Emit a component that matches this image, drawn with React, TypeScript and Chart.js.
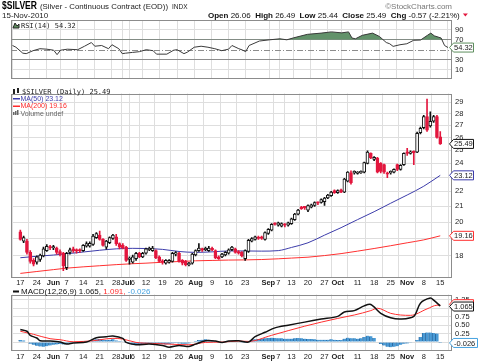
import React, { useEffect, useRef } from 'react';
import { Chart, registerables } from 'chart.js';

Chart.register(...registerables);

const SANS = '"Liberation Sans", Arial, sans-serif';
const MONO = '"DejaVu Sans Mono", "Liberation Mono", monospace';

// ---- x axis: trading-day index, tick labels ----
const tickDay = [0, 5, 10, 14, 19, 24, 29, 32, 34, 38, 43, 48, 53, 58, 63, 68, 75, 78, 82, 87, 92, 96, 102, 107, 112, 117, 122, 127];
const tickText = ['17', '24', 'Jun', '7', '14', '21', '28', 'Jul', '6', '12', '19', '26', 'Aug', '9', '16', '23', 'Sep', '7', '13', '20', '27', 'Oct', '11', '18', '25', 'Nov', '8', '15'];
const monthNames = ['Jun', 'Jul', 'Aug', 'Sep', 'Oct', 'Nov'];

// ---- daily OHLC (17-May-2010 .. 15-Nov-2010) ----
const open = [19.4, 18.85, 18.85, 18.2, 17.75, 17.65, 17.8, 18.0, 18.3, 18.5,
  18.45, 18.45, 18.25, 18.15, 17.35, 18.2, 18.4, 18.3, 18.3, 18.3,
  18.55, 18.55, 18.65, 19.05, 19.2, 18.95, 18.5, 18.75, 19.0, 19.1,
  18.7, 18.6, 18.5, 17.8, 17.65, 17.85, 18.15, 17.95, 18.15, 18.35,
  18.3, 18.3, 17.95, 17.7, 17.6, 17.65, 17.7, 18.1, 18.15, 17.75,
  17.7, 17.5, 17.6, 18.05, 18.3, 18.35, 18.35, 18.3, 18.4, 18.3,
  17.95, 17.95, 18.05, 18.15, 18.35, 18.4, 18.25, 18.2, 17.85, 18.25,
  18.85, 18.95, 19.05, 19.1, 18.95, 19.3, 19.5, 19.9, 19.8, 19.75,
  19.85, 19.8, 19.9, 20.15, 20.5, 20.9, 20.95, 20.75, 20.95, 21.05,
  21.25, 21.25, 21.3, 21.55, 21.7, 22.05, 21.9, 22.1, 21.95, 22.7,
  23.3, 23.3, 23.25, 23.3, 23.35, 24.0, 24.75, 24.3, 24.4, 24.0,
  23.9, 23.3, 23.3, 23.35, 23.9, 23.55, 23.9, 24.8, 24.75, 24.85,
  24.85, 26.4, 26.8, 27.75, 26.95, 27.35, 27.75, 26.06];
const high = [19.5, 19.15, 18.95, 18.3, 17.85, 18.0, 18.1, 18.5, 18.65, 18.6,
  18.6, 18.5, 18.35, 18.2, 18.2, 18.45, 18.5, 18.4, 18.4, 18.65,
  18.8, 18.8, 19.25, 19.35, 19.45, 19.0, 18.9, 19.1, 19.25, 19.25,
  18.75, 18.7, 18.55, 17.95, 18.05, 18.2, 18.2, 18.2, 18.45, 18.5,
  18.55, 18.35, 18.0, 17.8, 17.8, 17.8, 18.2, 18.25, 18.2, 17.8,
  17.75, 17.65, 18.15, 18.35, 18.7, 18.45, 18.5, 18.55, 18.5, 18.35,
  18.0, 18.15, 18.25, 18.4, 18.55, 18.45, 18.3, 18.25, 18.35, 18.95,
  19.05, 19.15, 19.15, 19.15, 19.4, 19.6, 19.9, 19.95, 20.0, 19.95,
  19.9, 20.0, 20.25, 20.55, 20.8, 21.0, 21.0, 21.1, 21.15, 21.3,
  21.3, 21.5, 21.6, 21.8, 22.0, 22.1, 22.1, 22.15, 22.9, 23.4,
  23.45, 23.45, 23.4, 23.45, 24.1, 24.95, 24.8, 24.5, 24.45, 24.05,
  23.95, 23.35, 23.45, 23.6, 23.95, 23.9, 24.8, 25.15, 24.95, 24.95,
  26.45, 26.85, 27.85, 29.3, 28.15, 27.85, 27.85, 26.49];
const low = [18.9, 18.75, 18.1, 17.6, 17.45, 17.55, 17.7, 17.95, 18.25, 18.35,
  18.35, 18.1, 18.0, 17.2, 17.25, 18.1, 18.2, 18.15, 18.2, 18.25,
  18.5, 18.5, 18.6, 19.0, 18.9, 18.55, 18.38, 18.7, 18.95, 18.6,
  18.4, 18.4, 17.7, 17.55, 17.6, 17.75, 17.9, 17.9, 18.1, 18.3,
  18.25, 17.85, 17.65, 17.55, 17.55, 17.6, 17.65, 18.0, 17.65, 17.5,
  17.45, 17.45, 17.55, 18.0, 18.25, 18.25, 18.3, 18.25, 18.3, 17.85,
  17.8, 17.9, 18.0, 18.1, 18.3, 18.15, 18.1, 17.95, 17.75, 18.2,
  18.8, 18.9, 18.95, 18.95, 18.9, 19.25, 19.45, 19.8, 19.75, 19.7,
  19.7, 19.75, 19.85, 20.1, 20.45, 20.8, 20.8, 20.65, 20.9, 21.0,
  21.1, 21.2, 21.05, 21.5, 21.65, 21.85, 21.85, 21.9, 21.9, 22.65,
  22.5, 23.2, 23.2, 23.25, 23.3, 23.95, 24.35, 24.2, 23.3, 23.3,
  23.25, 22.95, 23.2, 23.3, 23.45, 23.5, 23.85, 24.6, 24.7, 23.9,
  24.8, 26.3, 26.7, 26.5, 26.85, 27.25, 25.95, 25.44];
const close = [18.95, 19.05, 18.2, 17.7, 17.55, 17.95, 18.05, 18.4, 18.55, 18.45,
  18.5, 18.2, 18.1, 17.45, 18.15, 18.35, 18.3, 18.27, 18.28, 18.6,
  18.7, 18.72, 19.15, 19.3, 18.95, 18.6, 18.85, 19.05, 19.2, 18.7,
  18.5, 18.45, 17.75, 17.85, 17.95, 18.15, 17.95, 18.15, 18.4, 18.4,
  18.45, 17.9, 17.7, 17.65, 17.75, 17.75, 18.15, 18.15, 17.7, 17.6,
  17.5, 17.6, 18.1, 18.3, 18.45, 18.33, 18.38, 18.45, 18.35, 17.9,
  17.85, 18.1, 18.2, 18.35, 18.5, 18.2, 18.15, 18.0, 18.3, 18.9,
  19.0, 19.1, 19.0, 19.0, 19.35, 19.55, 19.85, 19.85, 19.95, 19.9,
  19.8, 19.95, 20.2, 20.5, 20.75, 20.85, 20.9, 21.05, 21.1, 21.25,
  21.2, 21.45, 21.55, 21.75, 21.95, 21.9, 22.05, 21.95, 22.85, 23.35,
  22.6, 23.35, 23.35, 23.4, 24.05, 24.85, 24.4, 24.45, 23.35, 23.4,
  23.35, 23.2, 23.35, 23.55, 23.55, 23.85, 24.75, 24.75, 24.85, 24.8,
  26.35, 26.75, 27.75, 26.6, 27.35, 27.75, 26.0, 25.49];

// ---- moving averages (weekly readings) ----
const maDay = [0, 5, 10, 14, 19, 24, 29, 34, 38, 43, 48, 53, 58, 63, 68, 73, 78, 82, 87, 92, 97, 102, 107, 112, 117, 122, 127];
const ma50 = [17.9, 17.98, 18.05, 18.12, 18.22, 18.32, 18.4, 18.43, 18.42, 18.37, 18.25, 18.2, 18.23, 18.28, 18.28, 18.27, 18.3, 18.48, 18.75, 19.2, 19.65, 20.15, 20.65, 21.2, 21.75, 22.35, 23.12];
const ma200 = [17.05, 17.15, 17.25, 17.33, 17.4, 17.46, 17.52, 17.57, 17.6, 17.65, 17.69, 17.73, 17.75, 17.77, 17.78, 17.8, 17.84, 17.88, 17.93, 18.02, 18.13, 18.27, 18.42, 18.58, 18.75, 18.92, 19.16];

// ---- RSI(14) ----
const rsiDay = [0, 1, 3, 4, 6, 8, 10, 12, 13, 14, 16, 19, 21, 23, 24, 26, 28, 29, 31, 32, 33, 35, 37, 39, 41, 42, 45, 47, 48, 50, 51, 53, 55, 57, 59, 61, 63, 64, 66, 67, 68, 69, 72, 75, 78, 80, 82, 86, 90, 93, 96, 98, 99, 100, 102, 105, 107, 109, 110, 111, 113, 115, 117, 119, 121, 122, 123, 125, 126, 127];
const rsiVal = [58.5, 55, 43, 42, 48, 52, 51, 49, 40, 49, 51, 50, 57, 64.5, 57, 58.5, 52, 60, 52, 42, 43, 44.5, 46, 50, 48, 41, 41, 49, 50, 42, 45, 55, 57, 55, 52, 48, 51, 58.5, 52, 49.5, 46, 58.5, 67.5, 70, 72, 70, 74, 81, 83.5, 86, 84, 86, 73.6, 72, 79, 83.5, 76.7, 64.5, 62, 56.7, 60, 62, 69, 69.5, 79, 83.5, 78, 73.6, 58.5, 54.32];

// ---- MACD(12,26,9) ----
const macdDay = [0, 2, 3, 5, 6, 9, 12, 14, 16, 20, 23, 26, 28, 31, 32, 35, 39, 43, 45, 48, 51, 53, 56, 59, 61, 63, 66, 69, 71, 74, 77, 81, 86, 91, 96, 98, 101, 104, 106, 109, 112, 115, 119, 121, 124, 125, 127];
const macdVal = [0.37, 0.32, 0.2, 0.12, 0.04, 0.03, 0, -0.06, -0.03, 0, 0.13, 0.16, 0.18, 0.11, -0.01, -0.08, -0.06, -0.1, -0.15, -0.1, -0.13, -0.06, 0.04, 0.03, -0.01, 0.03, 0.04, 0, 0.16, 0.29, 0.42, 0.5, 0.59, 0.68, 0.76, 0.89, 0.93, 1.07, 1.11, 0.85, 0.72, 0.68, 0.76, 1.15, 1.3, 1.24, 1.065];
const sigDay = [0, 4, 9, 12, 16, 22, 28, 31, 35, 40, 45, 51, 56, 61, 66, 69, 76, 86, 96, 101, 106, 108, 112, 115, 118, 123, 126, 127];
const sigVal = [0.32, 0.23, 0.1, 0.07, 0.01, 0.04, 0.11, 0.09, -0.01, -0.04, -0.06, -0.08, -0.01, 0, 0.03, 0.02, 0.2, 0.47, 0.7, 0.8, 0.93, 1.0, 0.85, 0.8, 0.79, 0.98, 1.09, 1.091];
const histVal = [0.06, 0.05, 0.0, -0.05, -0.08, -0.11, -0.13, -0.14, -0.12, -0.1,
  -0.08, -0.07, -0.06, -0.07, -0.06, -0.04, -0.03, -0.02, -0.02, -0.01,
  0.0, 0.02, 0.05, 0.08, 0.09, 0.07, 0.06, 0.07, 0.08, 0.05,
  0.03, 0.01, -0.03, -0.06, -0.07, -0.07, -0.07, -0.06, -0.05, -0.04,
  -0.04, -0.05, -0.06, -0.06, -0.07, -0.06, -0.04, -0.03, -0.04, -0.05,
  -0.05, -0.04, -0.01, 0.03, 0.06, 0.07, 0.08, 0.07, 0.05, 0.03,
  0.0, -0.01, -0.01, 0.0, 0.01, 0.01, 0.0, -0.02, -0.03, 0.02,
  0.06, 0.08, 0.09, 0.1, 0.11, 0.12, 0.13, 0.12, 0.11, 0.11,
  0.1, 0.1, 0.1, 0.11, 0.12, 0.11, 0.1, 0.09, 0.09, 0.08,
  0.07, 0.07, 0.07, 0.07, 0.08, 0.07, 0.06, 0.06, 0.1, 0.13,
  0.11, 0.11, 0.1, 0.11, 0.15, 0.19, 0.17, 0.12, 0.02, -0.06,
  -0.1, -0.14, -0.15, -0.14, -0.12, -0.08, -0.05, -0.04, -0.02, -0.01,
  0.06, 0.15, 0.27, 0.28, 0.28, 0.27, 0.25, -0.026];

// ---- axis ticks ----
const priceTicks = [18, 19, 20, 21, 22, 23, 24, 25, 26, 27, 28, 29];
const priceHidden = [19, 23];
const rsiTicks = [10, 30, 50, 70, 90];
const macdTicks = [0, 0.25, 0.5, 0.75, 1, 1.25];

const X_MIN = -0.44;
const X_MAX = 128.17;
const PLOT_LEFT = 11;
const AXIS_W = 28;
const RED = '#e3173e';
const GRID = '#dedede';

function xAxis(show: boolean, height: number, pad: number) {
  return {
    type: 'linear',
    min: X_MIN,
    max: X_MAX,
    afterBuildTicks: (s: any) => { s.ticks = tickDay.map((v) => ({ value: v })); },
    afterFit: (s: any) => { s.height = height; },
    grid: { color: GRID, drawTicks: false },
    border: { display: false },
    ticks: {
      display: show,
      autoSkip: false,
      maxRotation: 0,
      minRotation: 0,
      padding: pad,
      color: '#222',
      font: (c: any) => ({ family: SANS, size: 7.5, weight: monthNames.includes(tickText[c.index]) ? 'bold' : 'normal' }),
      callback: (_v: any, i: number) => tickText[i],
    },
  };
}

function yAxis(extra: any, ticks: number[], label: (v: number) => string, gridColor: any) {
  return {
    position: 'right',
    ...extra,
    afterFit: (s: any) => { s.width = AXIS_W; },
    afterBuildTicks: (s: any) => { s.ticks = ticks.map((v) => ({ value: v })); },
    grid: { color: gridColor, drawTicks: false },
    border: { display: false },
    ticks: { autoSkip: false, padding: 3, color: '#222', font: { family: SANS, size: 7.5 }, callback: (v: any) => label(Number(v)) },
  };
}

function drawFrame(chart: any) {
  const { ctx, chartArea: a } = chart;
  ctx.save();
  ctx.strokeStyle = '#8c8c8c';
  ctx.lineWidth = 1;
  ctx.strokeRect(Math.round(a.left) + 0.5, Math.round(a.top) + 0.5, Math.round(a.right - a.left) - 1, Math.round(a.bottom - a.top) - 1);
  ctx.restore();
}

function valueBox(ctx: any, y: number, text: string, stroke: string, width = 24) {
  const x0 = 449;
  const h = 9;
  ctx.save();
  ctx.beginPath();
  ctx.moveTo(x0 + 0.5, y);
  ctx.lineTo(x0 + 4.5, y - h / 2);
  ctx.lineTo(x0 + width + 0.5, y - h / 2);
  ctx.lineTo(x0 + width + 0.5, y + h / 2);
  ctx.lineTo(x0 + 4.5, y + h / 2);
  ctx.closePath();
  ctx.fillStyle = '#fff';
  ctx.fill();
  ctx.strokeStyle = stroke;
  ctx.lineWidth = 1;
  ctx.stroke();
  ctx.fillStyle = '#222';
  ctx.font = `7.5px ${SANS}`;
  ctx.textBaseline = 'middle';
  ctx.textAlign = 'left';
  ctx.fillText(text, x0 + 5, y + 0.5);
  ctx.restore();
}

function seq(ctx: any, parts: [string, string, string][], x: number, y: number) {
  let cx = x;
  for (const [t, font, color] of parts) {
    ctx.font = font;
    ctx.fillStyle = color;
    ctx.fillText(t, cx, y);
    cx += ctx.measureText(t).width;
  }
  return cx;
}

const rsiPlugin = {
  id: 'rsiExtras',
  beforeDatasetsDraw(chart: any) {
    const { ctx, chartArea: a, scales } = chart;
    const y = Math.round(scales.y.getPixelForValue(50)) + 0.5;
    ctx.save();
    ctx.strokeStyle = '#8c8c8c';
    ctx.setLineDash([6, 2, 1, 2]);
    ctx.beginPath();
    ctx.moveTo(a.left, y);
    ctx.lineTo(a.right, y);
    ctx.stroke();
    ctx.restore();
  },
  afterDraw(chart: any) {
    const { ctx, scales } = chart;
    drawFrame(chart);
    ctx.save();
    ctx.textBaseline = 'alphabetic';
    ctx.textAlign = 'left';
    // title line
    ctx.fillStyle = '#000';
    ctx.font = `bold 10.5px ${SANS}`;
    ctx.fillText('$SILVER', 2, 8.5, 35);
    ctx.font = `8px ${SANS}`;
    ctx.fillStyle = '#222';
    ctx.fillText('(Silver - Continuous Contract (EOD))', 40, 9, 128);
    ctx.font = `6.5px ${SANS}`;
    ctx.fillText('INDX', 172, 9);
    ctx.textAlign = 'right';
    ctx.fillStyle = '#777';
    ctx.font = `8px ${SANS}`;
    ctx.fillText('\u00A9StockCharts.com', 452, 9);
    ctx.textAlign = 'left';
    ctx.fillStyle = '#222';
    ctx.font = `8px ${SANS}`;
    ctx.fillText('15-Nov-2010', 2, 18);
    const B = `bold 8px ${SANS}`;
    const N = `8px ${SANS}`;
    const c = '#111';
    const end = seq(ctx, [
      ['Open', B, c], [' 26.06  ', N, c],
      ['High', B, c], [' 26.49  ', N, c],
      ['Low', B, c], [' 25.44  ', N, c],
      ['Close', B, c], [' 25.49  ', N, c],
      ['Chg', B, c], [' -0.57 (-2.21%) ', N, c],
    ], 208, 18);
    ctx.fillStyle = RED;
    ctx.beginPath();
    ctx.moveTo(end + 1, 13.5);
    ctx.lineTo(end + 6, 13.5);
    ctx.lineTo(end + 3.5, 16.5);
    ctx.closePath();
    ctx.fill();
    // RSI legend
    ctx.fillStyle = '#5e8e5e';
    ctx.strokeStyle = '#222';
    ctx.beginPath();
    ctx.moveTo(13, 28); ctx.lineTo(15, 23); ctx.lineTo(17, 26); ctx.lineTo(19, 24); ctx.lineTo(19, 28); ctx.closePath();
    ctx.fill(); ctx.stroke();
    ctx.fillStyle = '#222';
    ctx.font = `7px ${MONO}`;
    ctx.fillText('RSI(14) ' + rsiVal[rsiVal.length - 1].toFixed(2), 21, 28);
    ctx.restore();
    valueBox(ctx, scales.y.getPixelForValue(rsiVal[rsiVal.length - 1]), rsiVal[rsiVal.length - 1].toFixed(2), '#5e8e5e');
  },
};

const pricePlugin = {
  id: 'priceExtras',
  afterDraw(chart: any) {
    const { ctx, scales } = chart;
    drawFrame(chart);
    ctx.save();
    ctx.textBaseline = 'alphabetic';
    ctx.textAlign = 'left';
    // candle icon
    ctx.fillStyle = '#222';
    ctx.fillRect(13, 3, 2, 5);
    ctx.fillRect(17, 2, 2, 5);
    ctx.font = `7px ${MONO}`;
    ctx.fillText('$SILVER (Daily) ' + close[close.length - 1].toFixed(2), 22, 8);
    ctx.font = `7px ${SANS}`;
    ctx.fillStyle = '#3c3caa';
    ctx.fillRect(13, 12, 7, 1.5);
    ctx.fillText('MA(50) ' + ma50[ma50.length - 1].toFixed(2), 20.5, 14.5);
    ctx.fillStyle = '#ff2a2a';
    ctx.fillRect(13, 19.5, 7, 1.5);
    ctx.fillText('MA(200) ' + ma200[ma200.length - 1].toFixed(2), 20.5, 22);
    ctx.fillStyle = '#666';
    ctx.fillRect(13, 26, 1.5, 3);
    ctx.fillRect(15, 25, 1.5, 4);
    ctx.fillRect(17, 24, 1.5, 5);
    ctx.fillText('Volume undef', 20.5, 29.5);
    ctx.restore();
    const yS = scales.y;
    valueBox(ctx, yS.getPixelForValue(ma200[ma200.length - 1]), ma200[ma200.length - 1].toFixed(2), '#ff3030');
    valueBox(ctx, yS.getPixelForValue(ma50[ma50.length - 1]), ma50[ma50.length - 1].toFixed(2), '#3c3caa');
    valueBox(ctx, yS.getPixelForValue(close[close.length - 1]), close[close.length - 1].toFixed(2), '#111');
  },
};

const macdPlugin = {
  id: 'macdExtras',
  afterDraw(chart: any) {
    const { ctx, scales } = chart;
    drawFrame(chart);
    ctx.save();
    ctx.textBaseline = 'alphabetic';
    ctx.textAlign = 'left';
    ctx.fillStyle = '#111';
    ctx.fillRect(13, 3.5, 6, 2);
    const m = macdVal[macdVal.length - 1];
    const s = sigVal[sigVal.length - 1];
    const h = histVal[histVal.length - 1];
    seq(ctx, [
      ['MACD(12,26,9) ' + m.toFixed(3) + ', ', `8px ${SANS}`, '#111'],
      [s.toFixed(3) + ', ', `8px ${SANS}`, '#ff2a2a'],
      [h.toFixed(3), `8px ${SANS}`, '#45a2e0'],
    ], 21, 7);
    ctx.restore();
    const yS = scales.y;
    valueBox(ctx, yS.getPixelForValue(s) - 1, s.toFixed(3), '#ff3030');
    valueBox(ctx, yS.getPixelForValue(m) + 0.5, m.toFixed(3), '#111');
    valueBox(ctx, yS.getPixelForValue(h), h.toFixed(3), '#45a2e0', 28);
  },
};

const base = (padTop: number) => ({
  responsive: false,
  animation: false as const,
  devicePixelRatio: 1,
  events: [] as any[],
  layout: { padding: { left: PLOT_LEFT, right: 0, top: padTop, bottom: 0 } },
  plugins: { legend: { display: false }, tooltip: { enabled: false } },
});

function rsiConfig(): any {
  return {
    type: 'line',
    data: {
      datasets: [{
        data: rsiDay.map((d, k) => ({ x: d, y: rsiVal[k] })),
        borderColor: '#3a3a3a',
        borderWidth: 1,
        pointRadius: 0,
        tension: 0,
        fill: { target: { value: 70 }, above: '#62926a', below: 'rgba(0,0,0,0)' },
      }],
    },
    options: {
      ...base(20),
      scales: {
        x: xAxis(false, 1, 0),
        y: yAxis({ type: 'linear', min: -8.2, max: 110 }, rsiTicks, (v) => (v === 50 ? '' : String(v)),
          (c: any) => (c.tick && (c.tick.value === 30 || c.tick.value === 70) ? '#8c8c8c' : c.tick && c.tick.value === 50 ? 'rgba(0,0,0,0)' : GRID)),
      },
    },
    plugins: [rsiPlugin],
  };
}

function priceConfig(): any {
  const up = close.map((c, i) => c >= open[i]);
  return {
    type: 'bar',
    data: {
      datasets: [
        {
          type: 'bar',
          data: high.map((hv, i) => ({ x: i, y: [low[i], hv] })),
          backgroundColor: up.map((u) => (u ? '#111' : RED)),
          barThickness: 1,
          grouped: false,
          order: 2,
        },
        {
          type: 'bar',
          data: open.map((o, i) => ({ x: i, y: [o, close[i]] })),
          backgroundColor: up.map((u) => (u ? '#fff' : RED)),
          borderColor: up.map((u) => (u ? '#111' : RED)),
          borderWidth: 1,
          borderSkipped: false,
          barThickness: 3,
          minBarLength: 1.5,
          grouped: false,
          order: 1,
        },
        {
          type: 'line',
          data: maDay.map((d, k) => ({ x: d, y: ma50[k] })),
          borderColor: '#3c3caa',
          borderWidth: 1,
          pointRadius: 0,
          cubicInterpolationMode: 'monotone',
          order: 3,
        },
        {
          type: 'line',
          data: maDay.map((d, k) => ({ x: d, y: ma200[k] })),
          borderColor: '#ff3030',
          borderWidth: 1,
          pointRadius: 0,
          cubicInterpolationMode: 'monotone',
          order: 4,
        },
      ],
    },
    options: {
      ...base(0),
      scales: {
        x: xAxis(true, 10, 1),
        y: yAxis({ type: 'logarithmic', min: 16.86, max: 29.81 }, priceTicks, (v) => (priceHidden.includes(v) ? '' : String(v)), GRID),
      },
    },
    plugins: [pricePlugin],
  };
}

function macdConfig(): any {
  return {
    type: 'bar',
    data: {
      datasets: [
        {
          type: 'bar',
          data: histVal.map((v, i) => ({ x: i, y: v })),
          backgroundColor: '#4a9bd6',
          borderColor: '#2a6aa3',
          borderWidth: { left: 1, right: 0, top: 0, bottom: 0 },
          borderSkipped: false,
          barPercentage: 1,
          categoryPercentage: 1,
          order: 3,
        },
        {
          type: 'line',
          data: sigDay.map((d, k) => ({ x: d, y: sigVal[k] })),
          borderColor: '#ff3030',
          borderWidth: 1,
          pointRadius: 0,
          cubicInterpolationMode: 'monotone',
          order: 2,
        },
        {
          type: 'line',
          data: macdDay.map((d, k) => ({ x: d, y: macdVal[k] })),
          borderColor: '#111',
          borderWidth: 1.5,
          pointRadius: 0,
          tension: 0.3,
          order: 1,
        },
      ],
    },
    options: {
      ...base(0),
      scales: {
        x: xAxis(true, 13, 2),
        y: yAxis({ type: 'linear', min: -0.234, max: 1.406 }, macdTicks, (v) => (v === 0 || v === 1 ? '' : v.toFixed(2)), GRID),
      },
    },
    plugins: [macdPlugin],
  };
}

export default function App() {
  const r1 = useRef<HTMLCanvasElement>(null);
  const r2 = useRef<HTMLCanvasElement>(null);
  const r3 = useRef<HTMLCanvasElement>(null);
  useEffect(() => {
    const charts = [
      new Chart(r1.current as HTMLCanvasElement, rsiConfig()),
      new Chart(r2.current as HTMLCanvasElement, priceConfig()),
      new Chart(r3.current as HTMLCanvasElement, macdConfig()),
    ];
    return () => charts.forEach((c) => c.destroy());
  }, []);
  return (
    <div style={{ position: 'absolute', left: 0, top: 0, width: 480, height: 363, background: '#fff', overflow: 'hidden' }}>
      <canvas ref={r1} width={480} height={86} style={{ position: 'absolute', left: 0, top: 0, width: 480, height: 86 }} />
      <canvas ref={r2} width={480} height={201} style={{ position: 'absolute', left: 0, top: 86, width: 480, height: 201 }} />
      <canvas ref={r3} width={480} height={76} style={{ position: 'absolute', left: 0, top: 287, width: 480, height: 76 }} />
    </div>
  );
}
